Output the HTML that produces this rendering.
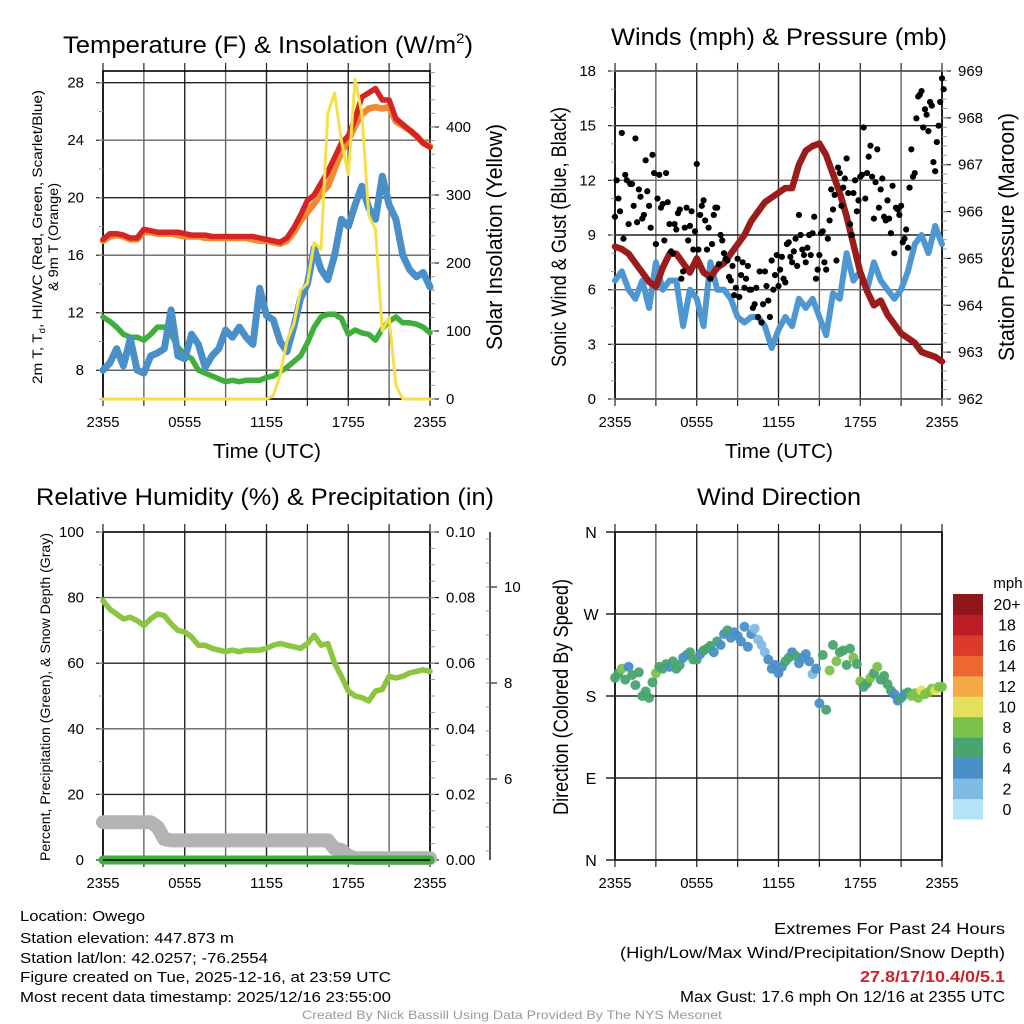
<!DOCTYPE html>
<html><head><meta charset="utf-8"><title>Owego Mesonet Meteogram</title>
<style>
html,body{margin:0;padding:0;background:#fff;}
svg{display:block;font-family:"Liberation Sans",Arial,sans-serif;}
</style></head>
<body>
<svg id="fig" xmlns="http://www.w3.org/2000/svg" width="1024" height="1024" viewBox="0 0 1024 1024">
<rect x="0" y="0" width="1024" height="1024" fill="#fff"/>
<text x="268" y="53" text-anchor="middle" font-size="24" textLength="410" lengthAdjust="spacingAndGlyphs">Temperature (F) &amp; Insolation (W/m<tspan font-size="14" dy="-10">2</tspan><tspan dy="10">)</tspan></text>
<text x="779" y="45" text-anchor="middle" font-size="24" textLength="336" lengthAdjust="spacingAndGlyphs">Winds (mph) &amp; Pressure (mb)</text>
<text x="265" y="505" text-anchor="middle" font-size="24" textLength="458" lengthAdjust="spacingAndGlyphs">Relative Humidity (%) &amp; Precipitation (in)</text>
<text x="779" y="505" text-anchor="middle" font-size="24" textLength="164" lengthAdjust="spacingAndGlyphs">Wind Direction</text>
<text transform="translate(42,237) rotate(-90)" text-anchor="middle" font-size="14" textLength="294" lengthAdjust="spacingAndGlyphs">2m T, T<tspan font-size="9" dy="3">d</tspan><tspan dy="-3">, HI/WC (Red, Green, Scarlet/Blue)</tspan></text>
<text transform="translate(58,237) rotate(-90)" text-anchor="middle" font-size="14" textLength="108" lengthAdjust="spacingAndGlyphs">&amp; 9m T (Orange)</text>
<text transform="translate(502,237) rotate(-90)" text-anchor="middle" font-size="22" textLength="226" lengthAdjust="spacingAndGlyphs">Solar Insolation (Yellow)</text>
<text transform="translate(566,237) rotate(-90)" text-anchor="middle" font-size="21" textLength="260" lengthAdjust="spacingAndGlyphs">Sonic Wind &amp; Gust (Blue, Black)</text>
<text transform="translate(1014,237) rotate(-90)" text-anchor="middle" font-size="22" textLength="248" lengthAdjust="spacingAndGlyphs">Station Pressure (Maroon)</text>
<text transform="translate(50,697) rotate(-90)" text-anchor="middle" font-size="14" textLength="328" lengthAdjust="spacingAndGlyphs">Percent, Precipitation (Green), &amp; Snow Depth (Gray)</text>
<text transform="translate(568,697) rotate(-90)" text-anchor="middle" font-size="21" textLength="236" lengthAdjust="spacingAndGlyphs">Direction (Colored By Speed)</text>
<text x="267" y="458" text-anchor="middle" font-size="20" textLength="108" lengthAdjust="spacingAndGlyphs">Time (UTC)</text>
<text x="779" y="458" text-anchor="middle" font-size="20" textLength="108" lengthAdjust="spacingAndGlyphs">Time (UTC)</text>
<g font-size="15">
<text x="20" y="921" textLength="125" lengthAdjust="spacingAndGlyphs">Location: Owego</text>
<text x="20" y="943" textLength="214" lengthAdjust="spacingAndGlyphs">Station elevation: 447.873 m</text>
<text x="20" y="963" textLength="248" lengthAdjust="spacingAndGlyphs">Station lat/lon: 42.0257; -76.2554</text>
<text x="20" y="982" textLength="371" lengthAdjust="spacingAndGlyphs">Figure created on Tue, 2025-12-16, at 23:59 UTC</text>
<text x="20" y="1002" textLength="371" lengthAdjust="spacingAndGlyphs">Most recent data timestamp: 2025/12/16 23:55:00</text>
</g>
<g font-size="16" text-anchor="end">
<text x="1005" y="934" textLength="231" lengthAdjust="spacingAndGlyphs">Extremes For Past 24 Hours</text>
<text x="1005" y="958" textLength="385" lengthAdjust="spacingAndGlyphs">(High/Low/Max Wind/Precipitation/Snow Depth)</text>
<text x="1005" y="982" fill="#d0202a" font-weight="bold" textLength="145" lengthAdjust="spacingAndGlyphs">27.8/17/10.4/0/5.1</text>
<text x="1005" y="1002" textLength="325" lengthAdjust="spacingAndGlyphs">Max Gust: 17.6 mph On 12/16 at 2355 UTC</text>
</g>
<text x="512" y="1019" text-anchor="middle" font-size="12" fill="#9a9a9a" textLength="420" lengthAdjust="spacingAndGlyphs">Created By Nick Bassill Using Data Provided By The NYS Mesonet</text>
<g id="plots"></g>
</svg>
<script>
const hourTickLabels = ["2355","0555","1155","1755","2355"];
const tempRed = [17.1,17.5,17.5,17.4,17.2,17.2,17.8,17.7,17.6,17.6,17.6,17.6,17.5,17.4,17.4,17.4,17.3,17.3,17.3,17.3,17.3,17.3,17.3,17.2,17.1,17.0,16.9,17.2,17.9,18.8,19.8,20.2,21.0,21.8,22.8,23.8,24.3,25.5,27.0,27.3,27.6,26.8,26.8,25.5,25.1,24.7,24.3,23.8,23.5];
const temp9mOrange = [17.0,17.3,17.4,17.3,17.1,17.1,17.6,17.6,17.5,17.5,17.5,17.4,17.3,17.3,17.3,17.2,17.2,17.2,17.2,17.2,17.2,17.2,17.1,17.0,17.0,16.9,16.8,17.0,17.6,18.4,19.0,19.6,20.3,20.8,22.0,23.2,24.0,25.0,25.8,26.2,26.3,26.2,26.3,25.3,25.0,24.7,24.3,23.8,23.6];
const dewGreen = [11.7,11.4,11.0,10.5,10.3,10.3,10.1,10.5,11.0,11.0,10.5,9.6,9.1,8.8,8.0,7.8,7.6,7.4,7.2,7.3,7.2,7.3,7.3,7.3,7.5,7.6,7.9,8.2,8.6,9.0,9.9,11.0,11.7,11.9,11.9,11.6,10.5,10.8,10.6,10.5,10.1,10.9,11.4,11.7,11.3,11.3,11.2,11.0,10.6];
const windChillBlue = [8.0,8.5,9.5,8.3,10.2,8.0,7.8,9.0,9.2,9.5,12.2,9.0,8.8,10.5,9.8,8.2,9.0,9.5,10.8,10.3,11.0,10.3,9.8,13.7,11.8,11.5,10.0,9.3,11.0,13.0,14.0,16.5,15.0,14.3,16.0,18.5,18.0,19.5,20.8,19.3,18.5,21.5,19.5,18.5,16.0,15.0,14.5,14.8,13.8];
const insolation = [0,0,0,0,0,0,0,0,0,0,0,0,0,0,0,0,0,0,0,0,0,0,0,0,0,5,35,85,110,160,170,230,220,420,450,380,330,470,420,270,250,100,120,20,0,0,0,0,0];
const windSpeed = [6.5,7.0,6.0,5.5,6.5,5.0,7.5,6.0,6.5,6.5,4.0,6.0,5.5,4.0,7.5,6.0,6.0,5.5,4.5,4.2,4.5,4.5,4.0,2.8,3.8,4.5,4.0,5.5,5.0,5.5,4.5,3.5,5.8,5.5,8.0,6.5,7.0,6.0,7.5,6.5,6.0,5.5,6.0,7.0,8.5,9.0,8.0,9.5,8.5];
const pressure = [965.25,965.2,965.1,964.9,964.7,964.5,964.4,964.8,965.1,965.1,964.9,964.7,965.0,964.7,964.6,964.8,964.9,965.1,965.3,965.5,965.8,966.0,966.2,966.3,966.4,966.5,966.5,967.0,967.3,967.4,967.45,967.2,966.8,966.4,965.9,965.3,964.7,964.3,964.0,964.1,963.8,963.6,963.4,963.3,963.2,963.0,962.95,962.9,962.8];
const relHumidity = [79,76.5,75,73.5,74,73,71.5,73.5,75,74.5,72,70,69.5,68,65.5,65.5,64.5,64,63.5,64,63.5,64,64,64,64.5,65.5,66,65.5,65,64.5,66,68.5,65.5,66,60,56,51.5,50,49.5,48.5,51.5,52,56,55.5,56,57,57.5,58,57.5];
const precip = [0,0,0,0,0,0,0,0,0,0,0,0,0,0,0,0,0,0,0,0,0,0,0,0,0,0,0,0,0,0,0,0,0,0,0,0,0,0,0,0,0,0,0,0,0,0,0,0,0];
const snowDepth = [5.1,5.1,5.1,5.1,5.1,5.1,5.1,5.1,5.0,4.75,4.72,4.72,4.72,4.72,4.72,4.72,4.72,4.72,4.72,4.72,4.72,4.72,4.72,4.72,4.72,4.72,4.72,4.72,4.72,4.72,4.72,4.72,4.72,4.72,4.55,4.52,4.4,4.35,4.35,4.35,4.35,4.35,4.35,4.35,4.35,4.35,4.35,4.35,4.35];
const gusts = [10,11,14.6,12.3,9.6,11.8,14.3,11.5, 9.9,13.1,10.6,13.4,8.5,12.3,10.7,12.4, 9.6,8,9.3,10.4,7,10.5,9.5,8.2, 12.9,10.1,10.9,8.2,6.6,10.1,10.5,9, 8,7.6,6.5,5.7,7.7,6.8,6.1,7.3, 6,5.2,4.5,4.2,7,5.4,7.6,6.8, 6.2,7.8,6.4,8.6,7.5,8.8,10.1,8.2, 7.5,9,9.1,6.6,7.9,9.2,7.1,9.8, 10.4,7.6,12.4,11.6,13.2,9.6,11.3,10.3, 12.2,14.9,12.4,13.9,9.9,13.7,11.5,10, 10.9,9.1,8,10.4,10.6,8.8,8.3,13.7, 12.4,16.6,16.9,15.9,14.7,16.1,12.5,15, 17.6];
const gustsExtra = [12,10.3,8.8,12,11.8,10.6,9.7,11.1, 10.1,11.4,9.4,12.4,11,10.5,8.7,10.8, 8.1,9.6,10.2,6.6,9.4,8.7,10.3,9.2, 8.2,10.6,9.8,9.4,8.5,10.5,7.4,8.7, 7.7,6.7,7.3,6.1,5.6,7.5,6.6,6.0, 5.0,6.1,7.0,5.2,6.2,4.5,6.0,7.9, 7.1,6.6,8.5,7.8,8.1,7.3,9.0,7.9, 8.3,7.9,10.0,7.1,9.1,7.5,8.8,11.5, 11.2,12.7,10.6,12.1,11.3,9.0,12.0,10.9, 12.3,11.0,13.3,12.2,11.9,10.5,12.1,9.8, 9.9,11.7,10.5,10.1,8.6,9.3,11.6,12.2, 15.4,16.7,14.9,15.6,16.3,13.0,14.1,16.3, 17.0];
const windDir = [200,205,210,198,212,203,192,206, 180,185,178,195,205,212,210,215, 212,218,210,214,222,225,228,220, 220,226,230,232,235,228,240,236, 248,252,244,250,246,240,256,234, 248,254,242,236,228,220,210,214, 205,212,218,222,228,224,216,222, 226,218,204,210,172,225,165,208, 236,218,228,230,214,232,222,215, 196,190,194,200,205,212,198,202, 193,186,182,175,178,182,184,180, 183,178,186,182,184,188,186,190, 190];
const dirSpeed = [6.5,7,8,6,5,6.5,7,6.5, 6,6.5,7,6.5,8,6,6.5,7, 5,6.5,6,6.5,5,4.5,6,6.5, 6.5,5,6.5,7,6,5,6.5,5, 5,6.5,4.5,5,4.5,4.5,5,4, 4,3,3.5,2.5,3.5,4,5,4.5, 4,5,6.5,6,5,6.5,5,4.5, 5,4,3,4.5,5,6.5,7,8, 6.5,8.5,6.5,7,6,6.5,8,6.5, 8.5,7,6.5,8,6.5,9,6,7, 7,6.5,5,4.5,6,5.5,6.5,8, 9,8.5,10,9.5,8,9,10,8.5, 9];
const speedBinLabels = ["0","2","4","6","8","10","12","14","16","18","20+"];
const speedColors = ["#b5e3f7","#7fbbe4","#4a8fc7","#48a56f","#7dc14a","#e5e05a","#f4a946","#ee6630","#dc3a2c","#bf1d25","#8f171a"];
const tempTicks = [8,12,16,20,24,28];
const insTicks = [0,100,200,300,400];
const windTicks = [0,3,6,9,12,15,18];
const presTicks = [962,963,964,965,966,967,968,969];
const rhTicks = [0,20,40,60,80,100];
const precipTicks = ["0.00","0.02","0.04","0.06","0.08","0.10"];
const snowTicks = [6,8,10];
const dirTicks = ["N","E","S","W","N"];

const NS = "http://www.w3.org/2000/svg";
const root = document.getElementById("plots");
function mk(tag, attrs, parent){
  const e = document.createElementNS(NS, tag);
  for (const k in attrs) e.setAttribute(k, attrs[k]);
  (parent || root).appendChild(e);
  return e;
}
function lin(d0,d1,r0,r1){ return v => r0 + (v-d0)*(r1-r0)/(d1-d0); }
function pathFrom(arr, xs, ys, step){
  let d = "";
  arr.forEach((v,i)=>{ d += (i?"L":"M") + xs(i*step).toFixed(1) + "," + ys(v).toFixed(1); });
  return d;
}
function frame(L,R,T,B,name){
  const g = mk("g",{});
  
  
  const xs = lin(0,24,L,R);
  for (let h=0; h<=24; h+=3){
    const gl = mk("line",{x1:xs(h),x2:xs(h),y1:T,y2:B,stroke:(h%6===0)?"#222":"#666","stroke-width":1.4},g);
    
    
    const tb = mk("line",{x1:xs(h),x2:xs(h),y1:B,y2:B+7,stroke:"#222","stroke-width":1.2},g);
    
    
    const tt = mk("line",{x1:xs(h),x2:xs(h),y1:T-8,y2:T,stroke:"#222","stroke-width":1.2},g);
    
    
  }
  hourTickLabels.forEach((lab,i)=>{
    const t = mk("text",{x:xs(i*6),y:B+28,"text-anchor":"middle","font-size":15,textLength:33,lengthAdjust:"spacingAndGlyphs"},g);
    t.textContent = lab;
    
    
  });
  const fr = mk("rect",{x:L,y:T,width:R-L,height:B-T,fill:"none",stroke:"#000","stroke-width":1.6},g);
  
  
  return xs;
}
function hGrid(vals, ys, L, R, side, labelX, fmt, minorVals, name){
  const g = mk("g",{});
  
  
  vals.forEach((v,i)=>{
    const y = ys(+v);
    if (side==="left"){
      const gl = mk("line",{x1:L,x2:R,y1:y,y2:y,stroke:(i%2)?"#222":"#666","stroke-width":1.4},g);
      
      
      const tk = mk("line",{x1:L-7,x2:L,y1:y,y2:y,stroke:"#222","stroke-width":1.2},g);
      
      
      const t = mk("text",{x:labelX,y:y+5,"text-anchor":"end","font-size":15},g);
      t.textContent = fmt(v);
      
      
    } else {
      const tk = mk("line",{x1:R,x2:R+9,y1:y,y2:y,stroke:"#222","stroke-width":1.2},g);
      
      
      const t = mk("text",{x:labelX,y:y+5,"text-anchor":"start","font-size":15},g);
      t.textContent = fmt(v);
      
      
    }
  });
  (minorVals||[]).forEach(v=>{
    const y = ys(v);
    const x1 = side==="left" ? L-4 : R, x2 = side==="left" ? L : R+5;
    const m = mk("line",{x1:x1,x2:x2,y1:y,y2:y,stroke:"#999","stroke-width":1},g);
    
    
  });
}
function series(arr, xs, ys, color, w, name, step){
  const p = mk("path",{d:pathFrom(arr,xs,ys,step||0.5),fill:"none",stroke:color,"stroke-width":w,"stroke-linejoin":"round","stroke-linecap":"round"});
  
  
  return p;
}
function range(a,b,s){ const r=[]; for(let v=a; v<=b+1e-9; v+=s) r.push(+v.toFixed(4)); return r; }

{
  const L=103,R=430,T=71,B=399;
  const xs = frame(L,R,T,B,"temperature-panel");
  const yT = lin(6,28,B,82.7);
  const yI = lin(0,400,B,127);
  hGrid(tempTicks, yT, L, R, "left", 84, v=>v, range(6,28,2), "temperature-y-axis");
  hGrid(insTicks, yI, L, R, "right", 446, v=>v, range(0,480,20), "insolation-y-axis");
  series(dewGreen, xs, yT, "#3fae3a", 5.5, "dewpoint-line");
  series(windChillBlue, xs, yT, "#4a8fc7", 7, "wind-chill-line");
  series(temp9mOrange, xs, yT, "#f08a30", 6.5, "temp-9m-line");
  series(tempRed, xs, yT, "#d42424", 5.5, "temp-2m-line");
  series(insolation, xs, yI, "#f7df4a", 3, "insolation-line");
}
{
  const L=615,R=942,T=71,B=399;
  const xs = frame(L,R,T,B,"winds-panel");
  const yW = lin(0,18,B,71);
  const yP = lin(962,969,B,71);
  hGrid(windTicks, yW, L, R, "left", 596, v=>v, range(0,18,1), "wind-y-axis");
  hGrid(presTicks, yP, L, R, "right", 958, v=>v, range(962,969,0.2), "pressure-y-axis");
  series(windSpeed, xs, yW, "#4f97d1", 6, "sonic-wind-line");
  series(pressure, xs, yP, "#9c1b1b", 6.5, "pressure-line");
  const gg = mk("g",{});
  
  
  gusts.forEach((v,i)=>{
    const c = mk("circle",{cx:xs(i*0.25),cy:yW(v),r:3.1,fill:"#000"},gg);
    
    
  });
  gustsExtra.forEach((v,i)=>{
    const c = mk("circle",{cx:xs(i*0.25+0.12),cy:yW(v),r:3.1,fill:"#000"},gg);
    
    
  });
}
{
  const L=103,R=430,T=532,B=860;
  const xs = frame(L,R,T,B,"humidity-panel");
  const yH = lin(0,100,B,T);
  const yPr = lin(0,0.1,B,T);
  const yS = lin(6,10,779,587);
  hGrid(rhTicks, yH, L, R, "left", 84, v=>v, range(0,100,10), "humidity-y-axis");
  hGrid(precipTicks, yPr, L, R, "right", 446, v=>v, range(0,0.1,0.005), "precip-y-axis");
  const ax = mk("line",{x1:490,x2:490,y1:T,y2:B,stroke:"#222","stroke-width":1.5});
  
  
  snowTicks.forEach(v=>{
    const tk = mk("line",{x1:490,x2:497,y1:yS(v),y2:yS(v),stroke:"#222","stroke-width":1.2});
    
    
    const t = mk("text",{x:504,y:yS(v)+5,"font-size":15});
    t.textContent = v;
    
    
  });
  range(4.5,11,0.5).forEach(v=>{
    const m = mk("line",{x1:486,x2:490,y1:yS(v),y2:yS(v),stroke:"#999","stroke-width":1});
    
    
  });
  series(snowDepth, xs, v=>Math.min(yS(v),B), "#b3b3b3", 14, "snow-depth-line");
  series(relHumidity, xs, yH, "#8cc63f", 5.5, "humidity-line");
  series(precip, xs, yPr, "#3fae3a", 9, "precip-line");
  const base = mk("line",{x1:L,x2:R,y1:B,y2:B,stroke:"#000","stroke-width":1.6});
  
  
}
{
  const L=615,R=942,T=532,B=860;
  const xs = frame(L,R,T,B,"direction-panel");
  const yD = lin(0,360,B,T);
  const g = mk("g",{});
  
  
  dirTicks.forEach((lab,i)=>{
    const y = yD(i*90);
    const gl = mk("line",{x1:L-9,x2:R,y1:y,y2:y,stroke:"#222","stroke-width":1.4},g);
    
    
    const t = mk("text",{x:591,y:y+6,"text-anchor":"middle","font-size":16},g);
    t.textContent = lab;
    
    
  });
  const dg = mk("g",{});
  
  
  windDir.forEach((d,i)=>{
    const bin = Math.min(10, Math.floor(dirSpeed[i]/2));
    const c = mk("circle",{cx:xs(i*0.25),cy:yD(d),r:5,fill:speedColors[bin],"fill-opacity":0.95},dg);
    
    
  });
  const cb = mk("g",{});
  
  
  const cT=594, cB=819, n=speedColors.length, h=(cB-cT)/n;
  speedColors.forEach((col,i)=>{
    const y = cB - (i+1)*h;
    const r = mk("rect",{x:953,y:y,width:30,height:h+0.5,fill:col},cb);
    
    
    const t = mk("text",{x:1007,y:y+h/2+6,"text-anchor":"middle","font-size":16},cb);
    t.textContent = speedBinLabels[i];
    
    
  });
  const u = mk("text",{x:1008,y:588,"text-anchor":"middle","font-size":15},cb);
  u.textContent = "mph";
  
  
}
</script>
</body></html>
